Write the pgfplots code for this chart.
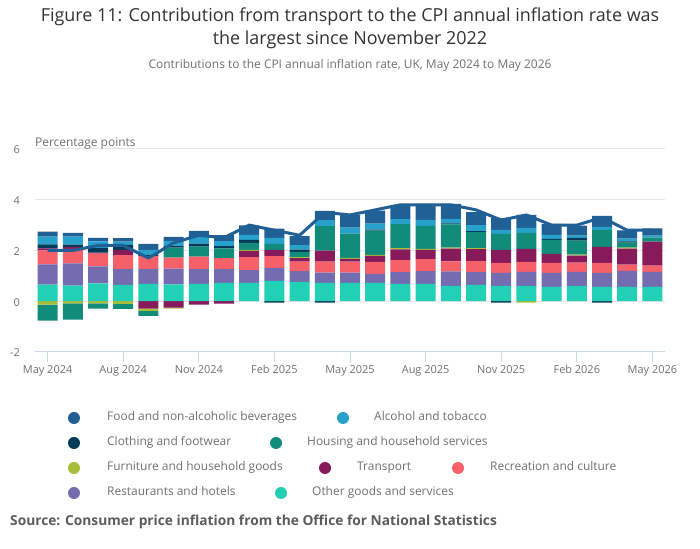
\documentclass[border=0pt]{standalone}
\usepackage{fontspec}
\setmainfont{Open Sans}
\usepackage{pgfplots}
\pgfplotsset{compat=1.18}
\usepackage{pgfplotstable}
\definecolor{cfood}{HTML}{206095}
\definecolor{calc}{HTML}{27A0CC}
\definecolor{ccloth}{HTML}{003C57}
\definecolor{chous}{HTML}{118C7B}
\definecolor{cfurn}{HTML}{A8BD3A}
\definecolor{ctrans}{HTML}{871A5B}
\definecolor{crec}{HTML}{F66068}
\definecolor{crest}{HTML}{746CB1}
\definecolor{cother}{HTML}{22D0B6}
\definecolor{gridc}{HTML}{E6E6E6}
\definecolor{axisc}{HTML}{CCD6EB}
\definecolor{labc}{HTML}{707070}
\definecolor{titc}{HTML}{333333}

\pgfplotstableread{
i  food alc  cloth hous  furn  trans rec  rest other cpi
0  0.19 0.31  0.16 -0.63 -0.13  0.08 0.55 0.80 0.65 2.0
1  0.14 0.32  0.09 -0.64 -0.08  0.08 0.57 0.87 0.62 2.0
2  0.14 0.26  0.18 -0.21 -0.08  0.04 0.51 0.67 0.70 2.2
3  0.14 0.13  0.20 -0.20 -0.10  0.20 0.55 0.63 0.64 2.2
4  0.24 0.20  0.04 -0.20 -0.09 -0.29 0.51 0.59 0.68 1.7
5  0.16 0.21  0.06  0.39 -0.04 -0.25 0.43 0.63 0.66 2.3
6  0.24 0.26  0.12  0.39  0.00 -0.13 0.49 0.59 0.68 2.6
7  0.24 0.20  0.09  0.38  0.00 -0.09 0.43 0.55 0.72 2.5
8  0.37 0.20  0.12  0.28  0.04  0.24 0.51 0.51 0.72 3.0
9  0.36 0.24 -0.05  0.24  0.00  0.24 0.47 0.51 0.80 2.8
10 0.36 0.18  0.08  0.21  0.04  0.14 0.37 0.43 0.76 2.6
11 0.36 0.24 -0.05  0.97  0.00  0.43 0.43 0.41 0.72 3.5
12 0.49 0.24  0.00  0.95  0.04  0.11 0.43 0.41 0.72 3.4
13 0.51 0.24  0.04  0.95  0.04  0.24 0.47 0.36 0.72 3.6
14 0.55 0.20  0.00  0.95  0.05  0.42 0.47 0.47 0.68 3.8
15 0.63 0.24  0.00  0.91  0.04  0.36 0.47 0.51 0.68 3.8
16 0.59 0.18  0.04  0.92  0.04  0.50 0.39 0.57 0.61 3.8
17 0.51 0.24  0.04  0.63  0.04  0.47 0.43 0.51 0.64 3.6
18 0.47 0.16 -0.05  0.63  0.00  0.51 0.39 0.51 0.61 3.2
19 0.51 0.20  0.00  0.63 -0.05  0.51 0.39 0.55 0.61 3.4
20 0.43 0.16  0.04  0.55  0.00  0.36 0.39 0.55 0.57 3.0
21 0.39 0.09  0.11  0.55  0.04  0.28 0.36 0.55 0.61 3.0
22 0.43 0.12 -0.05  0.67  0.00  0.63 0.39 0.55 0.57 3.3
23 0.32 0.11  0.05  0.20  0.04  0.63 0.24 0.63 0.57 2.8
24 0.28 0.08  0.00  0.16  0.00  0.95 0.24 0.59 0.57 2.8
}\data

\pgfplotsset{
  common/.style={
    at={(35bp,197bp)}, anchor=south west,
    width=630bp, height=203bp, scale only axis,
    xmin=-0.5, xmax=24.5, ymin=-2, ymax=6,
  },
  barsty/.style={fill=#1, draw=none},
}

\begin{document}
\begin{tikzpicture}[x=1bp,y=1bp]
\useasboundingbox (0,0) rectangle (700,549);

% background axis: grid, ticks, negative parts
\begin{axis}[common,
  ybar stacked, bar width=20bp,
  separate axis lines,
  axis x line*=bottom, axis y line*=left,
  x axis line style={color=axisc, line width=1bp, -},
  y axis line style={draw=none},
  ymajorgrids, grid style={color=gridc, line width=1bp},
  ytick={-2,0,2,4,6}, yticklabels={-2,0,2,4,6},
  ytick style={draw=none},
  yticklabel style={font=\fontsize{11}{13}\selectfont, text=labc, inner sep=0pt, anchor=east, xshift=-15bp, yshift=-1bp},
  xtick={0,3,6,9,12,15,18,21,24},
  xticklabels={May 2024,Aug 2024,Nov 2024,Feb 2025,May 2025,Aug 2025,Nov 2025,Feb 2026,May 2026},
  xtick align=outside, xtick pos=bottom,
  major tick length=10bp,
  xtick style={color=axisc, line width=1bp},
  xticklabel style={font=\fontsize{11}{13}\selectfont, text=labc, inner sep=0pt, anchor=north, yshift=-3bp},
]
\addplot[barsty=cother] table[x=i, y expr={min(\thisrow{other},0)}] {\data};
\addplot[barsty=crest]  table[x=i, y expr={min(\thisrow{rest},0)}] {\data};
\addplot[barsty=crec]   table[x=i, y expr={min(\thisrow{rec},0)}] {\data};
\addplot[barsty=ctrans] table[x=i, y expr={min(\thisrow{trans},0)}] {\data};
\addplot[barsty=cfurn]  table[x=i, y expr={min(\thisrow{furn},0)}] {\data};
\addplot[barsty=chous]  table[x=i, y expr={min(\thisrow{hous},0)}] {\data};
\addplot[barsty=ccloth] table[x=i, y expr={min(\thisrow{cloth},0)}] {\data};
\addplot[barsty=calc]   table[x=i, y expr={min(\thisrow{alc},0)}] {\data};
\addplot[barsty=cfood]  table[x=i, y expr={min(\thisrow{food},0)}] {\data};
\end{axis}

% positive parts
\begin{axis}[common, hide axis, ybar stacked, bar width=20bp]
\addplot[barsty=cother] table[x=i, y expr={max(\thisrow{other},0)}] {\data};
\addplot[barsty=crest]  table[x=i, y expr={max(\thisrow{rest},0)}] {\data};
\addplot[barsty=crec]   table[x=i, y expr={max(\thisrow{rec},0)}] {\data};
\addplot[barsty=ctrans] table[x=i, y expr={max(\thisrow{trans},0)}] {\data};
\addplot[barsty=cfurn]  table[x=i, y expr={max(\thisrow{furn},0)}] {\data};
\addplot[barsty=chous]  table[x=i, y expr={max(\thisrow{hous},0)}] {\data};
\addplot[barsty=ccloth] table[x=i, y expr={max(\thisrow{cloth},0)}] {\data};
\addplot[barsty=calc]   table[x=i, y expr={max(\thisrow{alc},0)}] {\data};
\addplot[barsty=cfood]  table[x=i, y expr={max(\thisrow{food},0)}] {\data};
\end{axis}

% CPI line
\begin{axis}[common, hide axis]
\addplot[color=cfood, line width=3bp, line join=round, mark=none] table[x=i, y=cpi] {\data};
\end{axis}

% titles
\node[text=titc, font=\fontsize{18}{22}\selectfont] at (350,532) {Figure 11: Contribution from transport to the CPI annual inflation rate was};
\node[text=titc, font=\fontsize{18}{22}\selectfont] at (350,509) {the largest since November 2022};
\node[text=labc, font=\fontsize{12}{14}\selectfont] at (350,484) {Contributions to the CPI annual inflation rate, UK, May 2024 to May 2026};
\node[text=labc, font=\fontsize{12}{14}\selectfont, anchor=mid west, inner sep=0pt] at (35,405) {Percentage points};

% legend
\fill[cfood] (74,131) circle (6);
\node[text=labc, font=\fontsize{12}{14}\selectfont, anchor=mid west, inner sep=0pt] at (107,131) {Food and non-alcoholic beverages};
\fill[calc] (343,131) circle (6);
\node[text=labc, font=\fontsize{12}{14}\selectfont, anchor=mid west, inner sep=0pt] at (374,131) {Alcohol and tobacco};
\fill[ccloth] (74,106) circle (6);
\node[text=labc, font=\fontsize{12}{14}\selectfont, anchor=mid west, inner sep=0pt] at (107,106) {Clothing and footwear};
\fill[chous] (276,106) circle (6);
\node[text=labc, font=\fontsize{12}{14}\selectfont, anchor=mid west, inner sep=0pt] at (307,106) {Housing and household services};
\fill[cfurn] (74,81) circle (6);
\node[text=labc, font=\fontsize{12}{14}\selectfont, anchor=mid west, inner sep=0pt] at (107,81) {Furniture and household goods};
\fill[ctrans] (325,81) circle (6);
\node[text=labc, font=\fontsize{12}{14}\selectfont, anchor=mid west, inner sep=0pt] at (357,81) {Transport};
\fill[crec] (458,81) circle (6);
\node[text=labc, font=\fontsize{12}{14}\selectfont, anchor=mid west, inner sep=0pt] at (490,81) {Recreation and culture};
\fill[crest] (74,56) circle (6);
\node[text=labc, font=\fontsize{12}{14}\selectfont, anchor=mid west, inner sep=0pt] at (107,56) {Restaurants and hotels};
\fill[cother] (281,56) circle (6);
\node[text=labc, font=\fontsize{12}{14}\selectfont, anchor=mid west, inner sep=0pt] at (312,56) {Other goods and services};

% source
\node[text=titc!80!white, font=\bfseries\fontsize{13.8}{16}\selectfont, anchor=mid west, inner sep=0pt] at (10,26) {Source: Consumer price inflation from the Office for National Statistics};
\end{tikzpicture}
\end{document}
